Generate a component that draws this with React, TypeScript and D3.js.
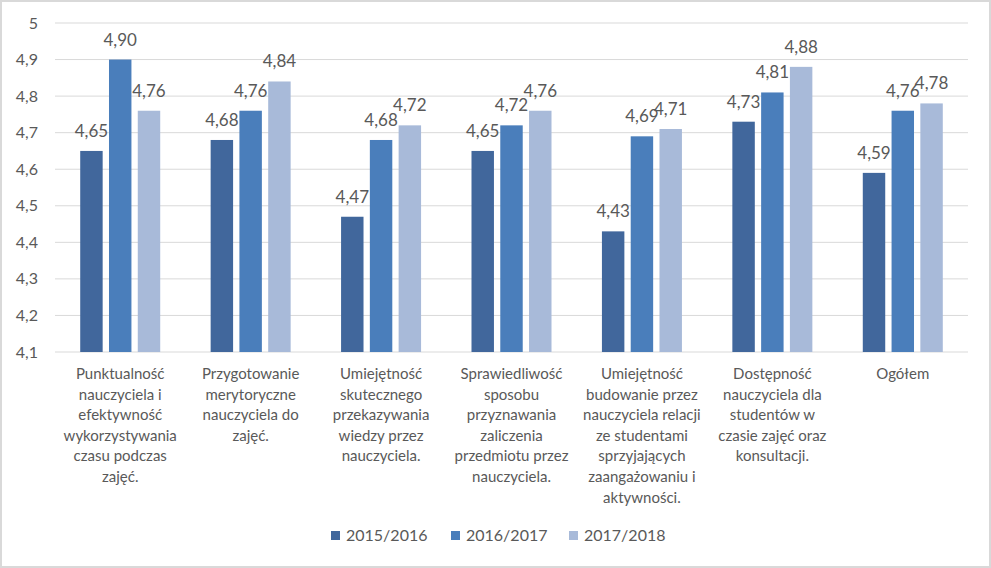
import React from "react";
import * as d3 from "d3";

const categories: string[][] = [
  ["Punktualność", "nauczyciela i", "efektywność", "wykorzystywania", "czasu podczas", "zajęć."],
  ["Przygotowanie", "merytoryczne", "nauczyciela do", "zajęć."],
  ["Umiejętność", "skutecznego", "przekazywania", "wiedzy przez", "nauczyciela."],
  ["Sprawiedliwość", "sposobu", "przyznawania", "zaliczenia", "przedmiotu przez", "nauczyciela."],
  ["Umiejętność", "budowanie przez", "nauczyciela relacji", "ze studentami", "sprzyjających", "zaangażowaniu i", "aktywności."],
  ["Dostępność", "nauczyciela dla", "studentów w", "czasie zajęć oraz", "konsultacji."],
  ["Ogółem"],
];
const seriesNames = ["2015/2016", "2016/2017", "2017/2018"];
const values2015 = [4.65, 4.68, 4.47, 4.65, 4.43, 4.73, 4.59];
const values2016 = [4.90, 4.76, 4.68, 4.72, 4.69, 4.81, 4.76];
const values2017 = [4.76, 4.84, 4.72, 4.76, 4.71, 4.88, 4.78];
const yTicks = [4.1, 4.2, 4.3, 4.4, 4.5, 4.6, 4.7, 4.8, 4.9, 5.0];
const colors = ["#41679c", "#4a7ebb", "#a8bad9"];

const W = 991, H = 568;
const FONT = "Lato, 'Open Sans', sans-serif";
const TEXT = "#595959";

export default function App() {
  const series = [values2015, values2016, values2017];
  const x0 = d3.scaleBand<number>().domain(d3.range(categories.length)).range([55, 968]).paddingInner(0).paddingOuter(0);
  const y = d3.scaleLinear().domain([4.1, 5.0]).range([352, 23]);
  const groupW = 80;
  const x1 = d3.scaleBand<number>().domain([0, 1, 2]).range([0, groupW]).paddingInner(0.22).paddingOuter(0);
  const fmt = (v: number) => v.toFixed(2).replace(".", ",");
  const tickFmt = (v: number) => (Math.round(v * 10) / 10).toString().replace(".", ",");

  return (
    <svg width={W} height={H} style={{ position: "absolute", left: 0, top: 0, background: "#fff" }} fontFamily={FONT}>
      <rect x={1} y={1} width={W - 2} height={H - 2} fill="#fff" stroke="#d9d9d9" strokeWidth={2} />
      {yTicks.map((t) => (
        <g key={t}>
          <line x1={55} x2={968} y1={y(t)} y2={y(t)} stroke="#d9d9d9" strokeWidth={1} />
          <text x={38} y={y(t)} dy="0.35em" textAnchor="end" fontSize={16} fill={TEXT}>
            {tickFmt(t)}
          </text>
        </g>
      ))}
      {categories.map((lines, i) => {
        const cx = (x0(i) as number) + x0.bandwidth() / 2;
        const gx = cx - groupW / 2;
        return (
          <g key={i}>
            {series.map((vals, s) => {
              const bx = gx + (x1(s) as number);
              const by = y(vals[i]);
              return (
                <g key={s}>
                  <rect x={bx} y={by} width={x1.bandwidth()} height={y(4.1) - by} fill={colors[s]} />
                  <text x={bx + x1.bandwidth() / 2} y={by - 14} textAnchor="middle" fontSize={17} fill={TEXT}>
                    {fmt(vals[i])}
                  </text>
                </g>
              );
            })}
            {lines.map((ln, k) => (
              <text key={k} x={cx} y={379 + k * 20.6} textAnchor="middle" fontSize={15} fill={TEXT}>
                {ln}
              </text>
            ))}
          </g>
        );
      })}
      {seriesNames.map((n, s) => {
        const lx = [331, 451, 569][s];
        return (
          <g key={n}>
            <rect x={lx} y={531} width={9} height={9} fill={colors[s]} />
            <text x={lx + 15} y={535.5} dy="0.35em" fontSize={16} fill={TEXT}>
              {n}
            </text>
          </g>
        );
      })}
    </svg>
  );
}
